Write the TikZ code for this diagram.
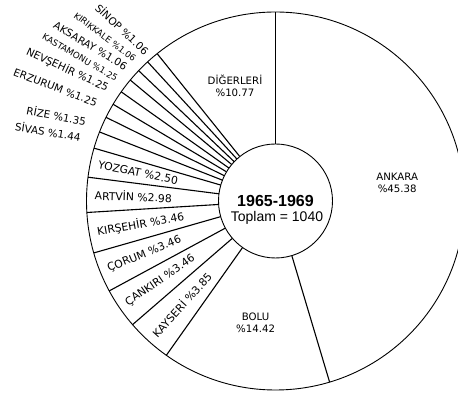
\documentclass[tikz,border=0pt]{standalone}
\usepackage{fontspec}
\setmainfont{DejaVu Sans}
\newfontfamily\arialf{Liberation Sans}
\begin{document}
\begin{tikzpicture}[x=1pt,y=1pt,
  lbl/.style={inner sep=0pt, font=\fontsize{10.8}{12}\selectfont},
  olbl/.style={inner sep=0pt, font=\fontsize{10.4}{12}\selectfont},
  sml/.style={inner sep=0pt, font=\fontsize{8.7}{10}\selectfont},
  big/.style={inner sep=0pt, align=center, font=\fontsize{10.2}{12}\selectfont},
  sepline/.style={line width=1.1pt},
  rim/.style={line width=0.9pt}]
\useasboundingbox (0,0) rectangle (458,393);
\clip (0,0) rectangle (458,393);
\coordinate (O) at (275.5,192);
\draw[rim] (O) circle (189);
\foreach \a [count=\i] in {90,-73.368,-125.28,-139.14,-151.596,-164.052,-176.508,-187.236,-196.236,-201.42,-206.28,-210.78,-215.28,-219.78,-223.596,-227.412,-231.228} {
  \coordinate (o\i) at ([shift={(\a:189)}]O);
  \coordinate (i\i) at ([shift={(\a:57)}]O);
  \draw[sepline] (i\i) -- (o\i);
}
\node[circle, draw, rim, fill=white, minimum size=114pt, inner sep=0pt] (c) at (O) {};
\node[anchor=base, inner sep=0pt, font=\arialf\bfseries\fontsize{16}{18}\selectfont] (yr) at ([shift={(0,-5.7)}]O) {1965-1969};
\node[anchor=base, inner sep=0pt, font=\arialf\fontsize{14}{16}\selectfont] (tot) at ([shift={(1.5,-20.7)}]O) {Toplam = 1040};
% big slices
\node[big] (ankara) at ([shift={(8.316:123)}]O) {ANKARA\\\%45.38};
\node[big] (bolu) at ([shift={(-99.324:123)}]O) {BOLU\\\%14.42};
\node[big] (dig) at ([shift={(109.386:122)}]O) {DİĞERLERİ\\\%10.77};
% inner labels
\node[lbl, anchor=west, rotate=47.79] (kay) at ([shift={(-132.21:181)}]O) {KAYSERİ \%3.85};
\node[lbl, anchor=west, rotate=34.632] (can) at ([shift={(-145.368:181)}]O) {ÇANKIRI \%3.46};
\node[lbl, anchor=west, rotate=22.176] (cor) at ([shift={(-157.824:181)}]O) {ÇORUM \%3.46};
\node[lbl, anchor=west, rotate=9.72] (kir) at ([shift={(-170.28:181)}]O) {KIRŞEHİR \%3.46};
\node[lbl, anchor=west, rotate=-1.872] (art) at ([shift={(-181.872:181)}]O) {ARTVİN \%2.98};
\node[lbl, anchor=west, rotate=-11.736] (yoz) at ([shift={(-191.736:181)}]O) {YOZGAT \%2.50};
% outer labels
\node[olbl, rotate=-9] (siv) at (48,261.5) {SİVAS \%1.44};
\node[olbl, rotate=-11] (riz) at (56.5,277.5) {RİZE \%1.35};
\node[olbl, rotate=-21] (erz) at (55.5,305.5) {ERZURUM \%1.25};
\node[olbl, rotate=-25] (nev) at (67.5,323.5) {NEVŞEHİR \%1.25};
\node[sml, rotate=-30] (kas) at (80,335.5) {KASTAMONU \%1.25};
\node[olbl, rotate=-31] (aks) at (90.5,347) {AKSARAY \%1.06};
\node[sml, rotate=-37] (kkl) at (105,356) {KIRIKKALE \%1.06};
\node[olbl, rotate=-43] (sin) at (122.5,364) {SİNOP \%1.06};
\end{tikzpicture}
\end{document}
